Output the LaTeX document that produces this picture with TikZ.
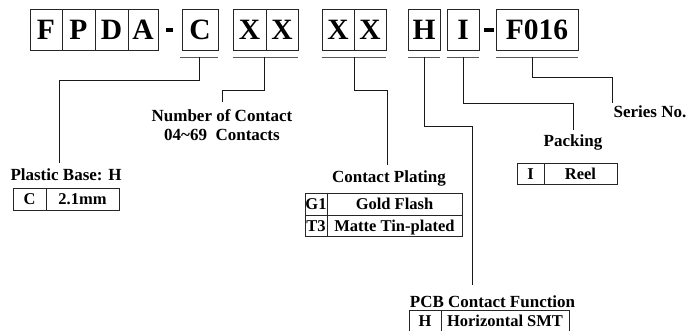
\documentclass[tikz,border=0pt]{standalone}
\usepackage{fontspec}
\setmainfont{Liberation Serif}
\begin{document}
\begin{tikzpicture}[x=1pt,y=-1pt,
  big/.style={draw=black!85, line width=0.8pt, font=\fontsize{29.5}{29.5}\selectfont\bfseries, inner sep=0pt, text height=19.5pt, text depth=0pt, minimum height=41pt},
  lbl/.style={font=\fontsize{17}{18}\selectfont\bfseries, inner sep=0pt},
  cell/.style={draw=black!85, line width=0.8pt, font=\fontsize{16.5}{18}\selectfont\bfseries, inner sep=0pt, text height=11pt, text depth=0pt, minimum height=21.5pt},
  conn/.style={line width=0.8pt, black!90},
  uline/.style={line width=0.8pt, draw=black!65},
  dashbar/.style={fill=black, draw=none}]
\useasboundingbox (0,0) rectangle (689,331);
% top code boxes
\node[big, minimum width=32pt] (bF) at (46,29.5) {F};
\node[big, minimum width=33pt] (bP) at (78.5,29.5) {P};
\node[big, minimum width=33pt] (bD) at (111.5,29.5) {D};
\node[big, minimum width=30pt] (bA) at (143,29.5) {A};
\fill[dashbar] (166,28) rectangle (173,32);
\node[big, minimum width=36pt] (bC) at (200,29.5) {C};
\node[big, minimum width=33pt] (bX1) at (249.5,29.5) {X};
\node[big, minimum width=32pt] (bX2) at (282,29.5) {X};
\node[big, minimum width=32pt] (bX3) at (338,29.5) {X};
\node[big, minimum width=32pt] (bX4) at (370,29.5) {X};
\node[big, minimum width=32pt] (bH) at (424,29.5) {H};
\node[big, minimum width=32pt] (bI) at (463,29.5) {I};
\fill[dashbar] (484,28) rectangle (494,32);
\node[big, minimum width=82pt] (bS) at (537,29.5) {F016};
% underlines
\draw[uline] (180,57) -- (218,57);
\draw[uline] ([yshift=-7pt]bX1.south west) -- ([yshift=-7pt]bX2.south east);
\draw[uline] ([yshift=-7pt]bX3.south west) -- ([yshift=-7pt]bX4.south east);
\draw[uline] ([yshift=-7pt]bH.south west) -- ([yshift=-7pt]bH.south east);
\draw[uline] ([yshift=-7pt]bI.south west) -- ([yshift=-7pt]bI.south east);
\draw[uline] ([yshift=-7pt]bS.south west) -- ([yshift=-7pt]bS.south east);
% labels
\node[lbl] (lbase) at (66,175) {Plastic Base: H};
\node[lbl] (lnum) at (222,116) {Number of Contact};
\node[lbl] (lnum2) at (222,135) {04\textasciitilde 69\ \ Contacts};
\node[lbl] (lplat) at (389,178) {Contact Plating};
\node[lbl] (lpcb) at (492.5,302) {PCB Contact Function};
\node[lbl] (lpack) at (573,142) {Packing};
\node[lbl] (lser) at (650,112) {Series No.};
% tables
\node[cell, minimum width=33pt] (tC) at (29.5,199.5) {C};
\node[cell, minimum width=73pt] (tCv) at (82.5,199.5) {2.1mm};
\node[cell, minimum width=22pt] (tG) at (316,204.5) {G1};
\node[cell, minimum width=135pt] (tGv) at (394.5,204.5) {Gold Flash};
\node[cell, minimum width=22pt] (tT) at (316,226) {T3};
\node[cell, minimum width=135pt] (tTv) at (394.5,226) {Matte Tin-plated};
\node[cell, minimum width=27pt] (tI) at (530.5,174) {I};
\node[cell, minimum width=73pt] (tIv) at (580.5,174) {Reel};
\node[cell, minimum width=32pt] (tH) at (425,321.5) {H};
\node[cell, minimum width=128pt] (tHv) at (505,321.5) {Horizontal SMT};
% connectors
\coordinate (cC) at (199,57);
\coordinate (cX) at (264,57);
\coordinate (cY) at (354,57);
\coordinate (cH) at (424,57);
\coordinate (cI) at (463,57);
\coordinate (cS) at (532,57);
\coordinate (eBase) at (59,163);
\coordinate (eNum) at (222,102);
\coordinate (ePlat) at (387,165);
\coordinate (ePcb) at (472,285);
\coordinate (ePack) at (573,130);
\coordinate (eSer) at (612,103);
\draw[conn] (cC) -- (199,80) -| (eBase);
\draw[conn] (cX) -- (264,90) -| (eNum);
\draw[conn] (cY) -- (354,90) -| (ePlat);
\draw[conn] (cH) -- (424,126) -| (ePcb);
\draw[conn] (cI) -- (463,103) -| (ePack);
\draw[conn] (cS) -- (532,77) -| (eSer);
\end{tikzpicture}
\end{document}
